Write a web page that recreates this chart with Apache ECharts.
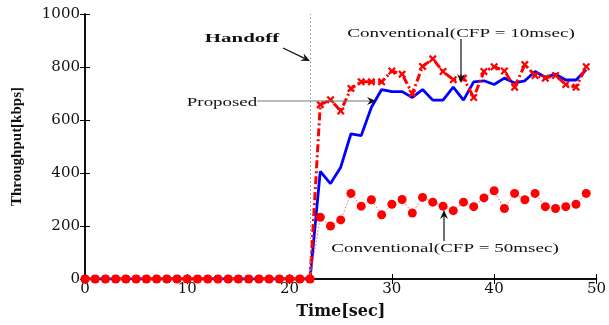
<!DOCTYPE html>
<html><head><meta charset="utf-8">
<script src="https://cdn.jsdelivr.net/npm/echarts@6/dist/echarts.min.js"></script>
<style>html,body{margin:0;padding:0;background:#fff}#c{width:609px;height:325px}</style>
</head><body><div id="c"></div>
<script>
var time = [0,1,2,3,4,5,6,7,8,9,10,11,12,13,14,15,16,17,18,19,20,21,22,23,24,25,26,27,28,29,30,31,32,33,34,35,36,37,38,39,40,41,42,43,44,45,46,47,48,49];
var proposed = [0,0,0,0,0,0,0,0,0,0,0,0,0,0,0,0,0,0,0,0,0,0,0,
  406,360,422,548,541,648,715,707,707,685,715,675,675,724,675,744,748,734,758,740,748,783,761,773,751,751,790];
var cfp10 = [0,0,0,0,0,0,0,0,0,0,0,0,0,0,0,0,0,0,0,0,0,0,0,
  658,676,634,719,744,744,744,785,773,700,802,831,783,752,758,685,783,801,785,724,809,768,758,768,734,724,801];
var cfp50 = [0,0,0,0,0,0,0,0,0,0,0,0,0,0,0,0,0,0,0,0,0,0,0,
  233,200,223,323,275,299,242,282,300,249,308,290,275,258,290,273,306,333,266,323,299,323,273,266,273,282,323];
var handoffTime = 22;
var xTicks = ['0','10','20','30','40','50'];
var yTicks = ['0','200','400','600','800','1000'];

function pairs(v){ return time.map(function(t,i){ return [t, v[i]]; }); }

var chart = echarts.init(document.getElementById('c'), null, {renderer:'canvas'});
var serif = 'Liberation Serif';
var labFont = 'DejaVu Serif';

function arrow(x1,y1,x2,y2,color,lineColor){
  var dx=x2-x1, dy=y2-y1, L=Math.sqrt(dx*dx+dy*dy), ux=dx/L, uy=dy/L;
  var hl=9, hw=4;
  var bx=x2-ux*hl, by=y2-uy*hl, nx=-uy, ny=ux;
  return [
    {type:'line', shape:{x1:x1,y1:y1,x2:bx+ux*3,y2:by+uy*3}, style:{stroke:lineColor||color, lineWidth:1.2}, z:20},
    {type:'polygon', shape:{points:[[x2,y2],[bx+nx*hw,by+ny*hw],[bx+ux*3,by+uy*3],[bx-nx*hw,by-ny*hw]]}, style:{fill:color}, z:20}
  ];
}
function txt(x,y,s,bold,sx){
  return {type:'text', x:x, y:y, scaleX:sx, style:{text:s, fill:'#111', font:(bold?'bold ':'')+'13.5px "'+serif+'"', textAlign:'center', textVerticalAlign:'middle'}, z:20};
}

var graphics = [].concat(
  [txt(242,39,'Handoff',true,1.55)],
  arrow(283,48,310,61,'#111'),
  [txt(222,102,'Proposed',false,1.4)],
  arrow(257,101,376,101,'#111','#777'),
  [txt(461,33,'Conventional(CFP = 10msec)',false,1.41)],
  arrow(461,39,461,83,'#111'),
  [txt(445,248,'Conventional(CFP = 50msec)',false,1.41)],
  arrow(444,241,444,210,'#111')
);

var xMark = 'path://M2,0 L5,3 L8,0 L10,2 L7,5 L10,8 L8,10 L5,7 L2,10 L0,8 L3,5 L0,2 Z';

function tickLabel(list, step){ return function(v){ return list[Math.round(v/step)]; }; }

var axisLineStyle = {show:true, lineStyle:{color:'#000', width:1.5}};
chart.setOption({
  animation:false,
  backgroundColor:'#fff',
  grid:{left:85, right:12, top:14, bottom:38, containLabel:false},
  xAxis:[{
    type:'value', min:0, max:50, interval:10, position:'bottom',
    axisLine:axisLineStyle, axisTick:{inside:true, length:5, lineStyle:{color:'#000'}},
    splitLine:{show:false},
    axisLabel:{margin:3, fontFamily:labFont, fontSize:15, color:'#111', formatter:tickLabel(xTicks,10)},
    name:'Time[sec]', nameLocation:'middle', nameGap:25,
    nameTextStyle:{fontFamily:labFont, fontWeight:'bold', fontSize:16, color:'#111'}
  },{
    type:'value', min:0, max:50, interval:10, position:'top',
    axisLine:axisLineStyle, axisTick:{inside:true, length:5, lineStyle:{color:'#000'}},
    axisLabel:{show:false}, splitLine:{show:false}
  }],
  yAxis:[{
    type:'value', min:0, max:1000, interval:200, position:'left',
    axisLine:axisLineStyle, axisTick:{inside:true, length:5, lineStyle:{color:'#000'}},
    splitLine:{show:false},
    axisLabel:{margin:5, fontFamily:labFont, fontSize:15, color:'#111', formatter:tickLabel(yTicks,200)},
    name:'Throughput[kbps]', nameLocation:'middle', nameGap:60,
    nameTextStyle:{fontFamily:serif, fontWeight:'bold', fontSize:15, color:'#111'}
  },{
    type:'value', min:0, max:1000, interval:200, position:'right',
    axisLine:axisLineStyle, axisTick:{inside:true, length:5, lineStyle:{color:'#000'}},
    axisLabel:{show:false}, splitLine:{show:false}
  }],
  series:[
    {type:'line', name:'Proposed', data:pairs(proposed), showSymbol:false, symbol:'none',
     lineStyle:{color:'#0000ff', width:2.8}, z:3,
     markLine:{silent:true, symbol:'none', label:{show:false},
       lineStyle:{color:'#999', type:[1.5,2.5], width:1},
       data:[[{coord:[handoffTime,0]},{coord:[handoffTime,1000]}]]}},
    {type:'line', name:'Conventional(CFP = 10msec)', data:pairs(cfp10), symbol:xMark, symbolSize:8,
     itemStyle:{color:'#ff0000'}, lineStyle:{color:'#ff0000', width:3, type:[8,3,2,3]}, z:4},
    {type:'line', name:'Conventional(CFP = 50msec)', data:pairs(cfp50), symbol:'circle', symbolSize:9,
     itemStyle:{color:'#ff0000'}, lineStyle:{color:'#ff5555', width:1, type:[1.5,2]}, z:5}
  ],
  graphic:graphics
});
</script></body></html>
